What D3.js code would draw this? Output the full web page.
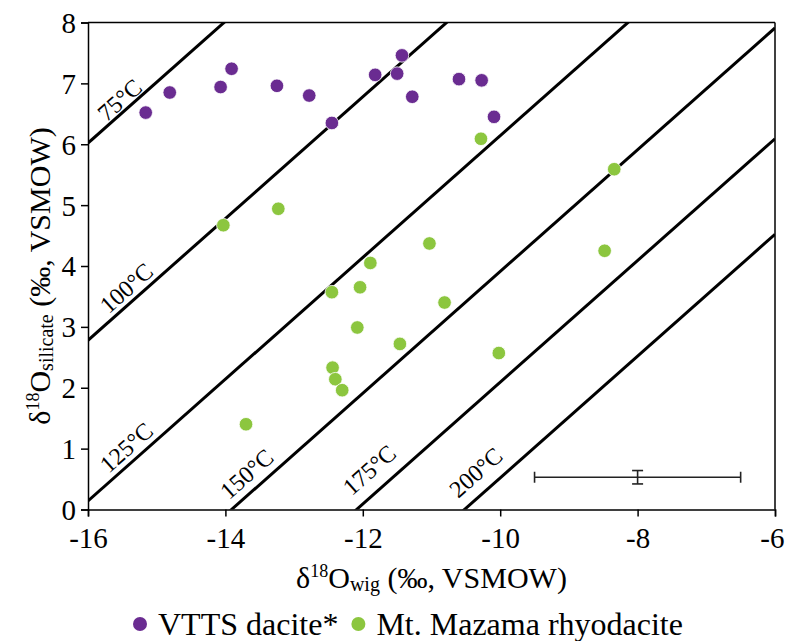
<!DOCTYPE html>
<html>
<head>
<meta charset="utf-8">
<script src="https://cdn.jsdelivr.net/npm/d3@7"></script>
<style>
  html, body { margin: 0; padding: 0; background: #fff; }
  svg { display: block; }
  svg text { fill: #000; }
</style>
</head>
<body>
<svg id="chart" width="785" height="641"></svg>
<script>
// ---------- data ----------
const vttsX = [-15.16, -14.81, -14.07, -13.91, -13.25, -12.78, -12.45, -11.82, -11.50, -11.43, -11.28, -10.60, -10.27, -10.09];
const vttsY = [6.52, 6.85, 6.94, 7.24, 6.96, 6.80, 6.35, 7.14, 7.16, 7.46, 6.78, 7.07, 7.05, 6.45];

const mazamaX = [-14.03, -13.23, -11.03, -11.89, -12.45, -12.04, -10.81, -12.08, -11.46, -10.02, -12.44, -12.40, -12.30, -10.28, -8.34, -8.48, -13.70];
const mazamaY = [4.67, 4.94, 4.37, 4.05, 3.57, 3.65, 3.40, 2.99, 2.72, 2.57, 2.33, 2.14, 1.96, 6.09, 5.59, 4.25, 1.40];

// isotherms: δ18O_silicate = δ18O_wig + intercept
const isoLabels = ["75°C", "100°C", "125°C", "150°C", "175°C", "200°C"];
const isoIntercepts = [22.02, 18.78, 16.14, 13.91, 12.09, 10.52];
const isoLabelAt = [-15.43, -15.31, -15.30, -13.53, -11.70, -10.16]; // x where label sits along line

// representative analytical uncertainty
const errCenter = [-8, 0.53];
const errHalf = [1.5, 0.11];

const xTicks = [-16, -14, -12, -10, -8, -6];
const yTicks = [0, 1, 2, 3, 4, 5, 6, 7, 8];

const seriesNames = ["VTTS dacite*", "Mt. Mazama rhyodacite"];
const seriesColors = ["#6a2c91", "#8cc63f"];

// ---------- layout ----------
const plot = { left: 88, right: 775, top: 22.5, bottom: 509.5 };
const labelOffsets = [11, 13.5, 14.5, 16.5, 21, 20];
const FONT = '"Liberation Serif", "Times New Roman", Tinos, "DejaVu Serif", "Noto Serif", serif';

const svg = d3.select("#chart");
const x = d3.scaleLinear().domain([-16, -6]).range([plot.left, plot.right]);
const y = d3.scaleLinear().domain([0, 8]).range([plot.bottom, plot.top]);

svg.append("defs").append("clipPath").attr("id", "clip")
  .append("rect")
  .attr("x", plot.left).attr("y", plot.top)
  .attr("width", plot.right - plot.left).attr("height", plot.bottom - plot.top);

// isotherm lines
const gIso = svg.append("g").attr("clip-path", "url(#clip)");
isoIntercepts.forEach(c => {
  gIso.append("line")
    .attr("x1", x(-16)).attr("y1", y(-16 + c))
    .attr("x2", x(-6)).attr("y2", y(-6 + c))
    .attr("stroke", "#000").attr("stroke-width", 3);
});

const angle = Math.atan((y(0) - y(1)) / (x(1) - x(0))) * 180 / Math.PI;
isoLabels.forEach((lab, i) => {
  const lx = isoLabelAt[i];
  const px = x(lx), py = y(lx + isoIntercepts[i]);
  svg.append("text")
    .attr("transform", `translate(${px},${py}) rotate(${-angle})`)
    .attr("x", 0).attr("y", -labelOffsets[i] + 8)
    .attr("text-anchor", "middle")
    .attr("font-family", FONT)
    .attr("font-size", 24)
    .text(lab);
});

// axes
const axisColor = "#000";
const xAxis = svg.append("g").attr("transform", `translate(0,${plot.bottom})`)
  .call(d3.axisBottom(x).tickValues(xTicks).tickSize(7).tickFormat(d => String(d)));
const yAxis = svg.append("g").attr("transform", `translate(${plot.left},0)`)
  .call(d3.axisLeft(y).tickValues(yTicks).tickSize(7).tickFormat(d => String(d)));
[xAxis, yAxis].forEach(g => {
  g.attr("font-family", FONT);
  g.select(".domain").attr("stroke", axisColor).attr("stroke-width", 1.5);
  g.selectAll(".tick line").attr("stroke", axisColor).attr("stroke-width", 1.5);
  g.selectAll(".tick text").attr("font-family", FONT).attr("font-size", 29).attr("fill", "#000");
});
xAxis.selectAll(".tick text").attr("dy", "1.0em").attr("y", 9);
// keep the last x label inside the picture
xAxis.selectAll(".tick text").filter(d => d === xTicks[xTicks.length - 1])
  .attr("text-anchor", "end").attr("x", 784 - plot.right);
yAxis.selectAll(".tick text").attr("x", -12).attr("dy", "0.34em");

// top & right frame
svg.append("line").attr("x1", plot.left).attr("x2", plot.right).attr("y1", plot.top).attr("y2", plot.top)
  .attr("stroke", axisColor).attr("stroke-width", 1.5);
svg.append("line").attr("x1", plot.right).attr("x2", plot.right).attr("y1", plot.top).attr("y2", plot.bottom)
  .attr("stroke", axisColor).attr("stroke-width", 1.5);

// error bar
const eb = svg.append("g").attr("stroke", "#222").attr("stroke-width", 1.6).attr("fill", "none");
const ex0 = x(errCenter[0] - errHalf[0]), ex1 = x(errCenter[0] + errHalf[0]);
const ey0 = y(errCenter[1] - errHalf[1]), ey1 = y(errCenter[1] + errHalf[1]);
const ecx = x(errCenter[0]), ecy = y(errCenter[1]);
eb.append("line").attr("x1", ex0).attr("x2", ex1).attr("y1", ecy).attr("y2", ecy);
eb.append("line").attr("x1", ex0).attr("x2", ex0).attr("y1", ecy - 5.5).attr("y2", ecy + 5.5);
eb.append("line").attr("x1", ex1).attr("x2", ex1).attr("y1", ecy - 5.5).attr("y2", ecy + 5.5);
eb.append("line").attr("x1", ecx).attr("x2", ecx).attr("y1", ey0).attr("y2", ey1);
eb.append("line").attr("x1", ecx - 5.5).attr("x2", ecx + 5.5).attr("y1", ey0).attr("y2", ey0);
eb.append("line").attr("x1", ecx - 5.5).attr("x2", ecx + 5.5).attr("y1", ey1).attr("y2", ey1);

// points
const vtts = vttsX.map((v, i) => ({ x: v, y: vttsY[i] }));
const mazama = mazamaX.map((v, i) => ({ x: v, y: mazamaY[i] }));
[vtts, mazama].forEach((data, si) => {
  svg.append("g").selectAll("circle").data(data).join("circle")
    .attr("cx", d => x(d.x)).attr("cy", d => y(d.y)).attr("r", 6.8)
    .attr("fill", seriesColors[si]).attr("stroke", "#fff").attr("stroke-width", 0.8);
});

// axis titles
const xt = svg.append("text").attr("x", (plot.left + plot.right) / 2).attr("y", 588)
  .attr("text-anchor", "middle").attr("font-family", FONT).attr("font-size", 30);
xt.append("tspan").text("δ");
xt.append("tspan").attr("font-size", 18).attr("dy", -11).text("18");
xt.append("tspan").attr("dy", 11).text("O");
xt.append("tspan").attr("font-size", 20).attr("dy", 3).text("wig");
xt.append("tspan").attr("dy", -3).text(" (‰, VSMOW)");

const yt = svg.append("text")
  .attr("transform", `translate(50,${(plot.top + plot.bottom) / 2 + 10}) rotate(-90)`)
  .attr("text-anchor", "middle").attr("font-family", FONT).attr("font-size", 30);
yt.append("tspan").text("δ");
yt.append("tspan").attr("font-size", 18).attr("dy", -11).text("18");
yt.append("tspan").attr("dy", 11).text("O");
yt.append("tspan").attr("font-size", 20).attr("dy", 3).text("silicate");
yt.append("tspan").attr("dy", -3).text(" (‰, VSMOW)");

// legend
const leg = svg.append("g");
let lx = 140;
const ly = 624;
seriesNames.forEach((name, i) => {
  leg.append("circle").attr("cx", lx).attr("cy", ly).attr("r", 7).attr("fill", seriesColors[i]);
  const t = leg.append("text").attr("x", lx + 18).attr("y", ly + 11)
    .attr("font-family", FONT).attr("font-size", 32).text(name);
  const w = t.node().getComputedTextLength();
  lx = lx + 18 + w + 20;
});
</script>
</body>
</html>
